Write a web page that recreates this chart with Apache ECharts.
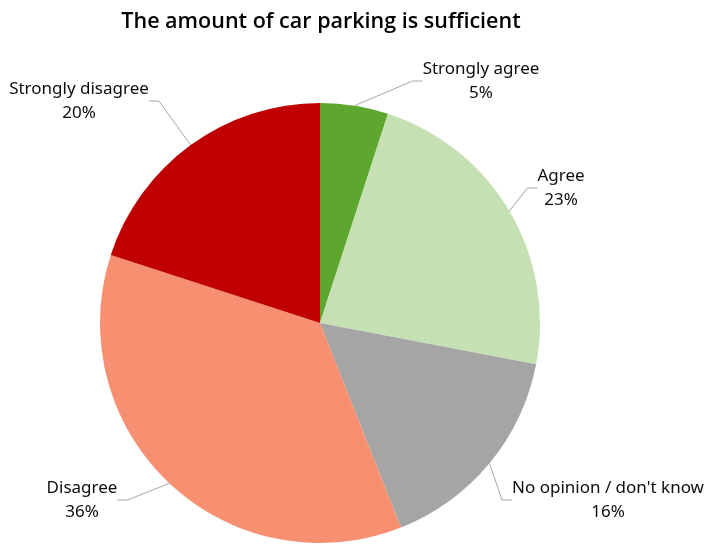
<!DOCTYPE html>
<html>
<head>
<meta charset="utf-8">
<script src="https://cdn.jsdelivr.net/npm/echarts@6/dist/echarts.min.js"></script>
<style>
  html, body { margin: 0; padding: 0; background: #fff; }
  #chart { width: 704px; height: 544px; }
</style>
</head>
<body>
<div id="chart"></div>
<script>
// Survey responses, in clockwise order from 12 o'clock
const categories = ['Strongly agree', 'Agree', "No opinion / don't know", 'Disagree', 'Strongly disagree'];
const shares = [5, 23, 16, 36, 20];
const colors = ['#5ea72e', '#c5e0b3', '#a5a5a5', '#f69070', '#c00000'];

// Where each two-line label is centred
const labelCenters = [[481, 81], [561, 188], [608, 500], [82, 500], [79, 101]];

const chart = echarts.init(document.getElementById('chart'), null, { renderer: 'canvas' });

chart.setOption({
  backgroundColor: '#ffffff',
  animation: false,
  title: {
    text: 'The amount of car parking is sufficient',
    left: 316,
    textAlign: 'center',
    top: 6,
    textStyle: {
      fontFamily: 'Open Sans',
      fontWeight: 600,
      fontSize: 21.5,
      color: '#000000'
    }
  },
  series: [{
    type: 'pie',
    center: [320, 323],
    radius: 220,
    startAngle: 90,
    clockwise: true,
    avoidLabelOverlap: false,
    itemStyle: { borderWidth: 0 },
    label: {
      show: true,
      position: 'outside',
      formatter: p => p.name + '\n' + p.value + '%',
      fontFamily: 'Noto Sans',
      fontSize: 17,
      lineHeight: 24,
      color: '#0d0d0d',
      align: 'center'
    },
    labelLine: {
      show: true,
      length: 20,
      length2: 10,
      lineStyle: { color: '#a6a6a6', width: 1 }
    },
    labelLayout: function (params) {
      const c = labelCenters[params.dataIndex];
      return { x: c[0], y: c[1], align: 'center', verticalAlign: 'middle' };
    },
    data: categories.map((name, i) => ({
      name: name,
      value: shares[i],
      itemStyle: { color: colors[i] }
    }))
  }]
});
</script>
</body>
</html>
